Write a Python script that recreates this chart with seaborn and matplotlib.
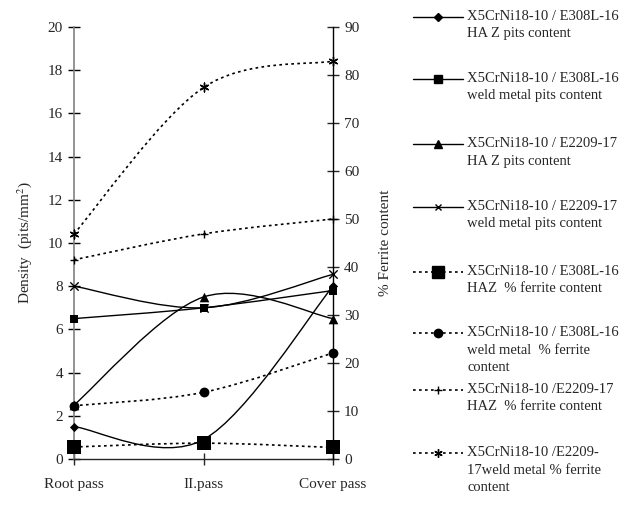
import numpy as np
import pandas as pd
import matplotlib
matplotlib.use("Agg")
import matplotlib.pyplot as plt
from matplotlib.path import Path
from matplotlib.patches import PathPatch
from matplotlib.lines import Line2D
import seaborn as sns

# ---------------- data ----------------
categories = ["Root pass", "II.pass", "Cover pass"]

# pits density (left axis, pits/mm^2)
e308_haz_pits = [1.5, 0.9, 8.0]
e308_wm_pits = [6.5, 7.0, 7.8]
e2209_haz_pits = [2.5, 7.5, 6.5]
e2209_wm_pits = [8.0, 7.0, 8.55]

# % ferrite content (right axis)
e308_haz_ferrite = [2.5, 3.3, 2.4]
e308_wm_ferrite = [11.1, 13.9, 22.1]
e2209_haz_ferrite = [41.5, 46.9, 50.0]
e2209_wm_ferrite = [46.9, 77.4, 82.9]

labels = [
    "X5CrNi18-10 / E308L-16\nHA Z pits content",
    "X5CrNi18-10 / E308L-16\nweld metal pits content",
    "X5CrNi18-10 / E2209-17\nHA Z pits content",
    "X5CrNi18-10 / E2209-17\nweld metal pits content",
    "X5CrNi18-10 / E308L-16\nHAZ  % ferrite content",
    "X5CrNi18-10 / E308L-16\nweld metal  % ferrite\ncontent",
    "X5CrNi18-10 /E2209-17\nHAZ  % ferrite content",
    "X5CrNi18-10 /E2209-\n17weld metal % ferrite\ncontent",
]

# ---------------- style ----------------
sns.set_style("ticks")
plt.rcParams["font.family"] = ["Liberation Serif", "DejaVu Serif"]
plt.rcParams["mathtext.fontset"] = "stix"

W, H = 626, 509
fig = plt.figure(figsize=(W / 100, H / 100), dpi=100)
ax = fig.add_axes([74 / W, 1 - 459 / H, (333 - 74) / W, (459 - 27) / H])
ax2 = ax.twinx()

xpos = np.arange(len(categories))

def smooth_path(ax_, ys, ls, lw=1.0, color="black"):
    """Excel-like smoothed line: cubic Bezier segments (Catmull-Rom, tension 1/6)."""
    pts = np.column_stack([xpos, ys]).astype(float)
    n = len(pts)
    verts = [pts[0]]
    codes = [Path.MOVETO]
    for i in range(n - 1):
        p_prev = pts[i - 1] if i > 0 else pts[i]
        p0, p1 = pts[i], pts[i + 1]
        p_next = pts[i + 2] if i + 2 < n else pts[i + 1]
        c1 = p0 + (p1 - p_prev) / 6.0
        c2 = p1 - (p_next - p0) / 6.0
        verts += [c1, c2, p1]
        codes += [Path.CURVE4] * 3
    patch = PathPatch(Path(verts, codes), fill=False, edgecolor=color,
                      linewidth=lw, linestyle=ls, clip_on=False, zorder=2)
    ax_.add_patch(patch)

dot = (0, (1.6, 2.0))

series = [
    # (axis, values, linestyle, marker, size, lw_marker)
    (ax, e308_haz_pits, "-", "D", 22, 0),
    (ax, e308_wm_pits, "-", "s", 40, 0),
    (ax, e2209_haz_pits, "-", "^", 48, 0),
    (ax, e2209_wm_pits, "-", "x", 36, 1.0),
    (ax2, e308_haz_ferrite, dot, "s", 110, 0),
    (ax2, e308_wm_ferrite, dot, "o", 50, 0),
    (ax2, e2209_haz_ferrite, dot, "+", 40, 1.0),
    (ax2, e2209_wm_ferrite, dot, (6, 2, 0), 40, 1.0),
]

for a, vals, ls, mk, s, mlw in series:
    smooth_path(a, vals, ls, lw=1.2 if ls != "-" else 1.0)
    df = pd.DataFrame({"x": xpos, "y": vals})
    sns.scatterplot(data=df, x="x", y="y", ax=a, marker=mk, s=s, color="black",
                    edgecolor="black", linewidth=mlw, clip_on=False, zorder=3,
                    legend=False)

# ---------------- axes ----------------
ax.set_xlim(0, 2)
ax.set_ylim(0, 20)
ax2.set_ylim(0, 90)
ax.set_xticks(xpos)
ax.set_xticklabels(categories, fontsize=11)
ax.set_yticks(np.arange(0, 21, 2))
ax2.set_yticks(np.arange(0, 91, 10))
ax.set_xlabel("")
ax.set_ylabel("Density  (pits/mm$^2$)", fontsize=11, labelpad=10)
ax2.set_ylabel("% Ferrite content", fontsize=11, labelpad=14)
ax2.set_xlabel("")

for a in (ax, ax2):
    a.spines["top"].set_visible(False)
ax.spines["right"].set_visible(False)
ax2.spines["left"].set_visible(False)
ax2.spines["bottom"].set_visible(False)
ax.spines["left"].set_color("#808080")
ax.spines["left"].set_linewidth(1.2)
ax2.spines["right"].set_color("black")
ax2.spines["right"].set_linewidth(1.0)
ax.spines["bottom"].set_linewidth(1.0)

ax.tick_params(axis="y", direction="inout", length=8, width=1.0, labelsize=11,
               color="black", pad=4)
ax.tick_params(axis="x", direction="inout", length=8, width=1.0, labelsize=11, pad=10)
ax2.tick_params(axis="y", direction="inout", length=8, width=1.0, labelsize=11, pad=4)

# ---------------- legend (drawn manually to match layout) ----------------
handle_y = [17, 79, 144, 207, 272, 333, 390, 453]
x0, x1, xm, xt = 413, 463, 438, 467
leg_specs = [
    ("-", "D", 4), ("-", "s", 5.5), ("-", "^", 6), ("-", "x", 5),
    (dot, "s", 8), (dot, "o", 6), (dot, "+", 6), (dot, (6, 2, 0), 6),
]
for (ls, mk, ms), y, lab in zip(leg_specs, handle_y, labels):
    fy = 1 - y / H
    fig.add_artist(Line2D([x0 / W, x1 / W], [fy, fy], transform=fig.transFigure,
                          color="black", linewidth=1.0 if ls == "-" else 1.2,
                          linestyle=ls))
    fig.add_artist(Line2D([xm / W], [fy], transform=fig.transFigure,
                          color="black", marker=mk, markersize=ms,
                          markeredgewidth=1.0, linestyle="none"))
    fig.text(xt / W, 1 - (y - 7) / H, lab, fontsize=10.5, ha="left",
             linespacing=1.45, transform=fig.transFigure,
             verticalalignment="top")

fig.savefig("out.png", dpi=100)
